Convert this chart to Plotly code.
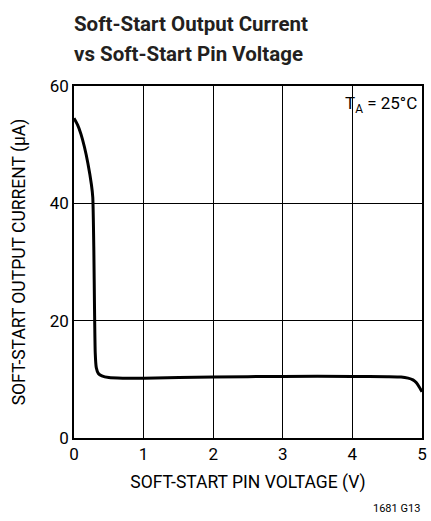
import plotly.graph_objects as go

voltage = [0, 0.05, 0.1, 0.15, 0.2, 0.25, 0.27, 0.285, 0.295, 0.305, 0.32, 0.35, 0.4, 0.5, 0.7, 1.0, 2.0, 3.0, 4.0, 4.5, 4.7, 4.8, 4.87, 4.92, 4.96, 5.0]
current = [54.5, 53.4, 51.8, 49.6, 46.8, 43.2, 41.0, 32.0, 22.0, 14.5, 12.0, 11.0, 10.6, 10.3, 10.2, 10.2, 10.4, 10.5, 10.5, 10.45, 10.4, 10.2, 9.9, 9.4, 8.7, 7.9]

x_ticks = [0, 1, 2, 3, 4, 5]
y_ticks = [0, 20, 40, 60]

title_lines = ["Soft-Start Output Current", "vs Soft-Start Pin Voltage"]

FONT = "Roboto, Arial"

fig = go.Figure()
fig.add_trace(go.Scatter(x=voltage, y=current, mode="lines",
                         line=dict(color="black", width=3, shape="spline", smoothing=0.5),
                         showlegend=False, hoverinfo="skip"))

axis_common = dict(showgrid=True, gridcolor="black", gridwidth=1,
                   showline=True, linecolor="black", linewidth=1.5, mirror=True,
                   zeroline=False, ticks="", tickfont=dict(size=17, color="black", family=FONT))

fig.update_xaxes(range=[0, 5], tickvals=x_ticks, **axis_common,
                 title=dict(text="SOFT-START PIN VOLTAGE (V)", font=dict(size=17.5, color="black", family=FONT), standoff=13))
fig.update_yaxes(range=[0, 60], tickvals=y_ticks, **axis_common,
                 title=dict(text="SOFT-START OUTPUT CURRENT (µA)", font=dict(size=17.5, color="black", family=FONT), standoff=20))

fig.add_annotation(text="T<sub>A</sub> = 25°C", xref="paper", yref="paper", x=0.992, y=0.985,
                   xanchor="right", yanchor="top", showarrow=False,
                   font=dict(size=17, color="black", family=FONT))
for i, line in enumerate(title_lines):
    fig.add_annotation(text="<b>" + line + "</b>",
                       xref="paper", yref="paper", x=-0.006, y=1.0, yshift=76 - 30 * i,
                       xanchor="left", yanchor="top", align="left", showarrow=False,
                       font=dict(size=20.5, color="#231f20", family=FONT))
fig.add_annotation(text="1681 G13", xref="paper", yref="paper", x=1.0, y=0, yshift=-62,
                   xanchor="right", yanchor="top", showarrow=False,
                   font=dict(size=11, color="black", family=FONT))

fig.update_layout(width=431, height=521, margin=dict(l=74, r=4, t=86, b=83),
                  paper_bgcolor="white", plot_bgcolor="white")

fig.write_html("out.html", config={"displayModeBar": False},
               post_script="document.body.style.margin='0';document.body.style.overflow='hidden';")
